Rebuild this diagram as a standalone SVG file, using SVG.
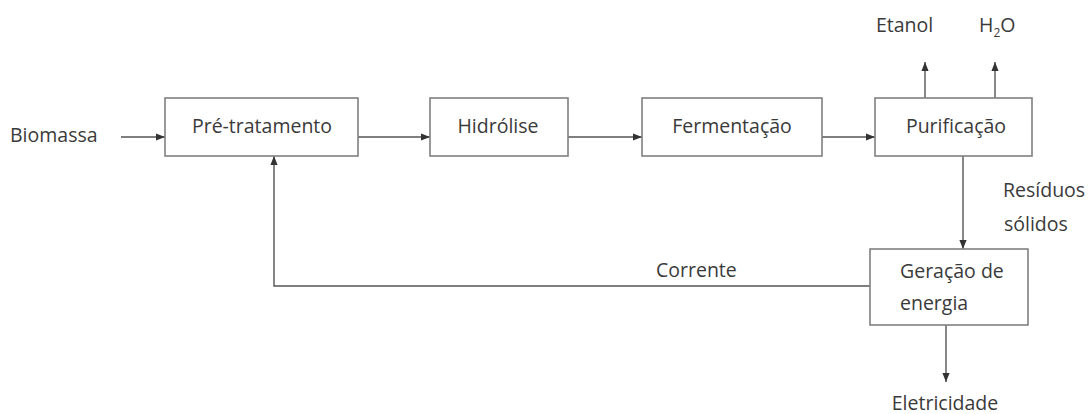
<svg xmlns="http://www.w3.org/2000/svg" width="1090" height="414" viewBox="0 0 1090 414">
<defs>
<marker id="arr" viewBox="0 0 10 8" refX="10" refY="4" markerWidth="9" markerHeight="8" markerUnits="userSpaceOnUse" orient="auto">
<path d="M0,0 L10,4 L0,8 Z" fill="#333"/>
</marker>
<style>
.box{fill:#fff;stroke:#808080;stroke-width:1.6}
.t{font-family:"Open Sans","Noto Sans",sans-serif;font-size:19.5px;fill:#3a3a3a}
.c{text-anchor:middle}
.ln{fill:none;stroke:#555;stroke-width:1.4;marker-end:url(#arr)}
</style>
</defs>
<rect width="1090" height="414" fill="#fff"/>
<g id="connectors">
<line class="ln" x1="121" y1="137" x2="165" y2="137"/>
<line class="ln" x1="358" y1="137" x2="430" y2="137"/>
<line class="ln" x1="568" y1="137" x2="642" y2="137"/>
<line class="ln" x1="822" y1="137" x2="875" y2="137"/>
<line class="ln" x1="925" y1="98" x2="925" y2="62"/>
<line class="ln" x1="995" y1="98" x2="995" y2="62"/>
<line class="ln" x1="963" y1="156" x2="963" y2="249"/>
<polyline class="ln" points="870,286 274,286 274,156"/>
<line class="ln" x1="946" y1="325" x2="946" y2="382"/>
</g>
<g id="biomassa"><text class="t" x="10" y="142">Biomassa</text></g>
<g id="pre-tratamento">
<rect class="box" x="165" y="98" width="193" height="58"/>
<text class="t c" x="262" y="133">Pré-tratamento</text>
</g>
<g id="hidrolise">
<rect class="box" x="430" y="98" width="138" height="58"/>
<text class="t c" x="498" y="133">Hidrólise</text>
</g>
<g id="fermentacao">
<rect class="box" x="642" y="98" width="180" height="58"/>
<text class="t c" x="732" y="133">Fermentação</text>
</g>
<g id="purificacao">
<rect class="box" x="875" y="98" width="157" height="58"/>
<text class="t c" x="956" y="133">Purificação</text>
</g>
<g id="etanol"><text class="t" x="876" y="32">Etanol</text></g>
<g id="h2o"><text class="t" x="979" y="32">H<tspan font-size="12" dy="5">2</tspan><tspan dy="-5">O</tspan></text></g>
<g id="residuos">
<text class="t" x="1003" y="197">Resíduos</text>
<text class="t" x="1004" y="231">sólidos</text>
</g>
<g id="corrente"><text class="t" x="656" y="277">Corrente</text></g>
<g id="geracao">
<rect class="box" x="870" y="249" width="158" height="76"/>
<text class="t" x="900" y="278">Geração de</text>
<text class="t" x="900" y="310">energia</text>
</g>
<g id="eletricidade"><text class="t c" x="945" y="410">Eletricidade</text></g>
</svg>
